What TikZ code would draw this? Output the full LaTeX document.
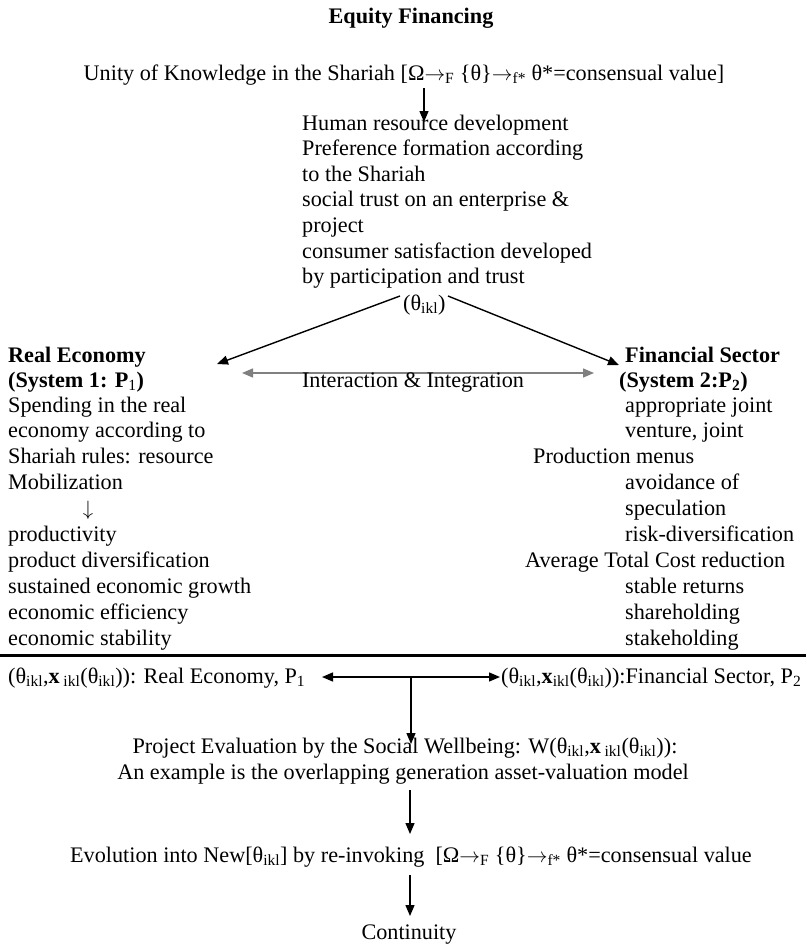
\documentclass[tikz,border=0pt]{standalone}
\usepackage{fontspec}
\setmainfont{Liberation Serif}
\usetikzlibrary{arrows.meta}
\newcommand{\sbs}[1]{\textsubscript{#1}}
\newcommand{\rar}{\ensuremath{\rightarrow}}
\begin{document}
\begin{tikzpicture}[x=1pt,y=-1pt,
  every node/.style={inner sep=0pt, font=\fontsize{22.2}{26}\selectfont},
  tl/.style={anchor=base west},
  tc/.style={anchor=base},
  bf/.style={font=\fontsize{22.2}{26}\selectfont\bfseries},
  arr/.style={line width=1.4pt, -{Triangle[length=11pt,width=9pt]}},
  darr/.style={line width=1.4pt, {Triangle[length=11pt,width=9pt]}-{Triangle[length=11pt,width=9pt]}},
]
\path[use as bounding box, fill=white] (0,0) rectangle (806,945);

% title
\node[tc,bf] (title) at (411,23) {Equity Financing};
\node[tc] (unity) at (404,80) {Unity of Knowledge in the Shariah [Ω\rar\sbs{F} \{θ\}\rar\sbs{f*} θ*=consensual value]};
\coordinate (a1s) at (424,88);
\coordinate (a1e) at (424,122);
\draw[arr] (a1s) -- (a1e);

% middle block
\node[tl] (m1) at (302,130) {Human resource development};
\node[tl] (m2) at (302,155.6) {Preference formation according};
\node[tl] (m3) at (302,181.2) {to the Shariah};
\node[tl] (m4) at (302,206.8) {social trust on an enterprise \&};
\node[tl] (m5) at (302,232.4) {project};
\node[tl] (m6) at (302,258) {consumer satisfaction developed};
\node[tl] (m7) at (302,283.6) {by participation and trust};
\node[tl] (th) at (403,310) {(θ\sbs{ikl})};

\coordinate (la) at (400,296);
\coordinate (lt) at (217,364);
\coordinate (ra) at (448,296);
\coordinate (rt) at (619,365);
\draw[arr] (la) -- (lt);
\draw[arr] (ra) -- (rt);

% interaction
\coordinate (il) at (242,373);
\coordinate (ir) at (594,373);
\draw[darr, draw=gray, fill=black] (il) -- (ir);
\node[tc] (inter) at (413,387) {Interaction \& Integration};

% left column
\node[tl,bf] (l0) at (8,362) {Real Economy};
\node[tl,bf] (l00) at (8,387.5) {(System 1: P\sbs{\mdseries 1})};
\node[tl] (l1) at (8,412) {Spending in the real};
\node[tl] (l2) at (8,437.9) {economy according to};
\node[tl] (l3) at (8,463.8) {Shariah rules: resource};
\node[tl] (l4) at (8,489.7) {Mobilization};
\node[tc] (l5) at (88,515.6) {$\downarrow$};
\node[tl] (l6) at (8,541.5) {productivity};
\node[tl] (l7) at (8,567.4) {product diversification};
\node[tl] (l8) at (8,593.3) {sustained economic growth};
\node[tl] (l9) at (8,619.2) {economic efficiency};
\node[tl] (l10) at (8,645.1) {economic stability};

% right column
\node[tl,bf] (r0) at (625,362) {Financial Sector};
\node[tl,bf] (r00) at (619,387.5) {(System 2:P\sbs{2})};
\node[tl] (r1) at (625,412) {appropriate joint};
\node[tl] (r2) at (625,437.9) {venture, joint};
\node[tl] (r3) at (533,463.8) {Production menus};
\node[tl] (r4) at (625,489.7) {avoidance of};
\node[tl] (r5) at (625,515.6) {speculation};
\node[tl] (r6) at (625,541.5) {risk-diversification};
\node[tl] (r7) at (525,567.4) {Average Total Cost reduction};
\node[tl] (r8) at (625,593.3) {stable returns};
\node[tl] (r9) at (625,619.2) {shareholding};
\node[tl] (r10) at (625,645.1) {stakeholding};

% divider
\draw[line width=3pt] (0,655) -- (806,655);

% bottom row
\node[tl] (b1) at (8,683) {(θ\sbs{ikl},\textbf{x}\,\sbs{ikl}(θ\sbs{ikl})): Real Economy, P\sbs{1}};
\node[tl] (b2) at (501,683) {(θ\sbs{ikl},\textbf{x}\sbs{ikl}(θ\sbs{ikl})):Financial Sector, P\sbs{2}};
\coordinate (bl) at (322,677);
\coordinate (br) at (500,677);
\draw[darr] (bl) -- (br);
\coordinate (bm) at (411,677);
\coordinate (bd) at (411,744);
\draw[arr] (bm) -- (bd);

\node[tc] (pe) at (405,753) {Project Evaluation by the Social Wellbeing: W(θ\sbs{ikl},\textbf{x}\,\sbs{ikl}(θ\sbs{ikl})):};
\node[tc] (ex) at (403,779) {An example is the overlapping generation asset-valuation model};

\coordinate (c1s) at (410,790);
\coordinate (c1e) at (410,834);
\draw[arr] (c1s) -- (c1e);

\node[tc] (ev) at (411,862) {Evolution into New[θ\sbs{ikl}] by re-invoking\ \ [Ω\rar\sbs{F} \{θ\}\rar\sbs{f*} θ*=consensual value};

\coordinate (c2s) at (410,875);
\coordinate (c2e) at (410,916);
\draw[arr] (c2s) -- (c2e);

\node[tc] (co) at (409,939) {Continuity};
\end{tikzpicture}
\end{document}
